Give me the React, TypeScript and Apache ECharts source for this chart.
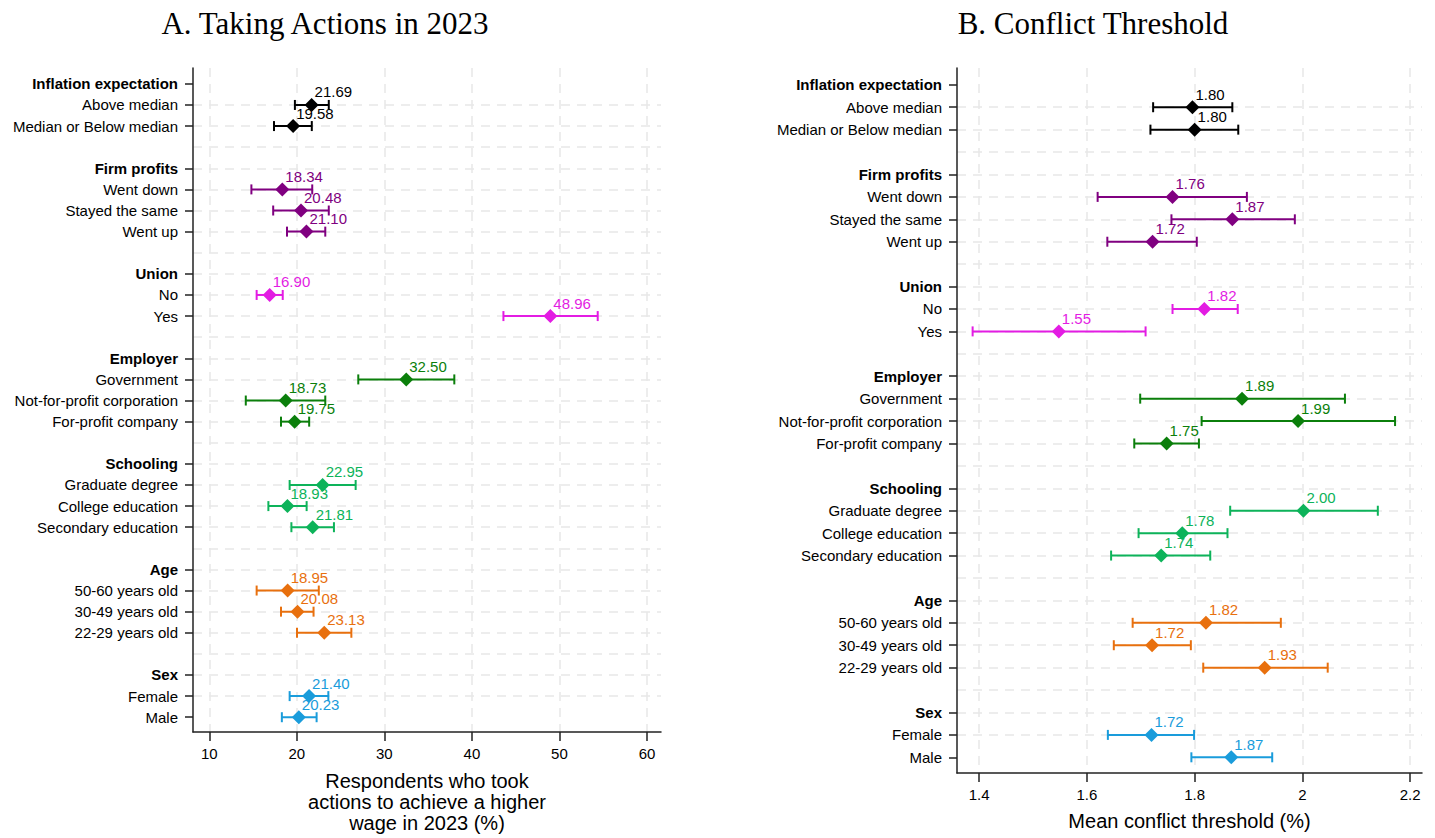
import React, { useEffect, useRef } from "react";
import * as echarts from "echarts";

const categories = [
  "Inflation expectation", "Above median", "Median or Below median", "",
  "Firm profits", "Went down", "Stayed the same", "Went up", "",
  "Union", "No", "Yes", "",
  "Employer", "Government", "Not-for-profit corporation", "For-profit company", "",
  "Schooling", "Graduate degree", "College education", "Secondary education", "",
  "Age", "50-60 years old", "30-49 years old", "22-29 years old", "",
  "Sex", "Female", "Male",
];
const headers = ["Inflation expectation", "Firm profits", "Union", "Employer", "Schooling", "Age", "Sex"];
const groupColors = ["#000000", "#800080", "#e31ce3", "#0b7f0b", "#0db35a", "#e8700e", "#1a9cdb"];

// Panel A: respondents who took actions (%)
const actionsMean = [21.69, 19.58, 18.34, 20.48, 21.10, 16.90, 48.96, 32.50, 18.73, 19.75, 22.95, 18.93, 21.81, 18.95, 20.08, 23.13, 21.40, 20.23];
const actionsLow = [19.78, 17.39, 14.81, 17.30, 18.88, 15.41, 43.60, 27.02, 14.17, 18.19, 19.18, 16.75, 19.38, 15.41, 18.19, 20.02, 19.18, 18.29];
const actionsHigh = [23.65, 21.71, 21.76, 23.65, 23.25, 18.39, 54.37, 37.99, 23.25, 21.41, 26.72, 21.12, 24.24, 22.51, 21.91, 26.23, 23.60, 22.26];
const actionsTicks = [10, 20, 30, 40, 50, 60];

// Panel B: mean conflict threshold (%)
const conflictMean = [1.796, 1.800, 1.759, 1.870, 1.722, 1.818, 1.548, 1.888, 1.992, 1.748, 2.002, 1.777, 1.738, 1.821, 1.721, 1.930, 1.720, 1.868];
const conflictLow = [1.723, 1.718, 1.620, 1.757, 1.638, 1.759, 1.388, 1.699, 1.813, 1.688, 1.866, 1.696, 1.645, 1.685, 1.650, 1.816, 1.639, 1.794];
const conflictHigh = [1.870, 1.881, 1.897, 1.986, 1.804, 1.880, 1.709, 2.079, 2.172, 1.808, 2.140, 1.861, 1.829, 1.960, 1.793, 2.047, 1.799, 1.944];
const conflictTicks = [1.4, 1.6, 1.8, 2, 2.2];

const FONT = "Liberation Sans, Arial, sans-serif";

// item rows & colours derived from categories
const itemRows: number[] = [];
const itemColors: string[] = [];
{
  let g = -1;
  categories.forEach((c, i) => {
    if (headers.includes(c)) g = headers.indexOf(c);
    else if (c !== "") {
      itemRows.push(i);
      itemColors.push(groupColors[g]);
    }
  });
}
const labelledRows = categories.map((c, i) => (c !== "" ? i : -1)).filter((i) => i >= 0);
const allRows = categories.map((_, i) => i);

function yAxes(gridIndex: number) {
  return [
    {
      type: "value",
      gridIndex,
      inverse: true,
      min: -0.75,
      max: 30.7,
      axisLine: { show: true, onZero: false, lineStyle: { color: "#222", width: 1.5 } },
      axisTick: { show: true, length: 8, customValues: labelledRows, lineStyle: { color: "#222", width: 1.5 } },
      axisLabel: {
        customValues: labelledRows,
        margin: 15,
        fontSize: 15,
        color: "#000",
        fontFamily: FONT,
        formatter: (v: number) => {
          const c = categories[Math.round(v)] || "";
          return headers.includes(c) ? `{b|${c}}` : c;
        },
        rich: { b: { fontWeight: "bold", fontSize: 15, color: "#000", fontFamily: FONT } },
      },
      splitLine: { show: false },
    },
    {
      type: "value",
      gridIndex,
      inverse: true,
      min: -0.75,
      max: 30.7,
      axisLine: { show: false, onZero: false },
      axisTick: { show: false, customValues: allRows },
      axisLabel: { show: false },
      splitLine: {
        show: true,
        showMinLine: false,
        showMaxLine: false,
        lineStyle: { color: "#e8e8e8", width: 1.5, type: [9, 7] },
      },
    },
  ];
}

function xAxis(gridIndex: number, min: number, max: number, ticks: number[], name: string, nameGap: number) {
  return {
    type: "value",
    gridIndex,
    position: "bottom",
    min,
    max,
    name,
    nameLocation: "middle",
    nameGap,
    nameTextStyle: { fontSize: 20, lineHeight: 21, color: "#000", fontFamily: FONT },
    axisLine: { show: true, onZero: false, lineStyle: { color: "#222", width: 1.5 } },
    axisTick: { show: true, length: 9, customValues: ticks, lineStyle: { color: "#222", width: 1.5 } },
    axisLabel: { customValues: ticks, margin: 14, fontSize: 15, color: "#000", fontFamily: FONT },
    splitLine: { show: true, lineStyle: { color: "#e8e8e8", width: 1.5, type: [9, 7] } },
  };
}

function panelSeries(xAxisIndex: number, yAxisIndex: number, mean: number[], low: number[], high: number[]) {
  return [
    {
      type: "custom",
      xAxisIndex,
      yAxisIndex,
      encode: { x: [0, 1], y: 2 },
      data: itemRows.map((r, i) => [low[i], high[i], r, i]),
      renderItem: (params: any, api: any) => {
        const p1 = api.coord([api.value(0), api.value(2)]);
        const p2 = api.coord([api.value(1), api.value(2)]);
        const color = itemColors[api.value(3)];
        const style = { stroke: color, lineWidth: 2 };
        const h = 5;
        return {
          type: "group",
          children: [
            { type: "line", shape: { x1: p1[0], y1: p1[1], x2: p2[0], y2: p2[1] }, style },
            { type: "line", shape: { x1: p1[0], y1: p1[1] - h, x2: p1[0], y2: p1[1] + h }, style },
            { type: "line", shape: { x1: p2[0], y1: p2[1] - h, x2: p2[0], y2: p2[1] + h }, style },
          ],
        };
      },
      z: 2,
    },
    {
      type: "scatter",
      xAxisIndex,
      yAxisIndex,
      symbol: "diamond",
      symbolSize: 14,
      z: 3,
      itemStyle: { opacity: 1 },
      data: itemRows.map((r, i) => ({
        value: [mean[i], r],
        itemStyle: { color: itemColors[i], opacity: 1 },
        label: { color: itemColors[i] },
      })),
      label: {
        show: true,
        position: "right",
        distance: 0,
        offset: [-4, -13],
        fontSize: 15,
        fontFamily: FONT,
        opacity: 1,
        formatter: (p: any) => Number(p.value[0]).toFixed(2),
      },
    },
  ];
}

export default function App() {
  const ref = useRef<HTMLDivElement>(null);
  useEffect(() => {
    if (!ref.current) return;
    const chart = echarts.init(ref.current, null, { renderer: "svg" });
    chart.setOption({
      animation: false,
      backgroundColor: "#ffffff",
      title: [
        {
          text: "A. Taking Actions in 2023",
          left: 320,
          top: 3,
          textAlign: "center",
          textStyle: { fontFamily: "Liberation Serif, Times New Roman, serif", fontWeight: "normal", fontSize: 31, color: "#000" },
        },
        {
          text: "B. Conflict Threshold",
          left: 1088,
          top: 3,
          textAlign: "center",
          textStyle: { fontFamily: "Liberation Serif, Times New Roman, serif", fontWeight: "normal", fontSize: 31, color: "#000" },
        },
      ],
      grid: [
        { left: 193, right: 774, top: 68, bottom: 105 },
        { left: 957, right: 13, top: 68, bottom: 65 },
      ],
      xAxis: [
        xAxis(0, 8.14, 61.6, actionsTicks, "Respondents who took\nactions to achieve a higher\nwage in 2023 (%)", 38),
        xAxis(1, 1.359, 2.222, conflictTicks, "Mean conflict threshold (%)", 37),
      ],
      yAxis: [...yAxes(0), ...yAxes(1)],
      series: [
        ...panelSeries(0, 0, actionsMean, actionsLow, actionsHigh),
        ...panelSeries(1, 2, conflictMean, conflictLow, conflictHigh),
      ],
    });
    return () => chart.dispose();
  }, []);
  return <div ref={ref} style={{ position: "fixed", left: 0, top: 0, width: 1435, height: 838 }} />;
}
